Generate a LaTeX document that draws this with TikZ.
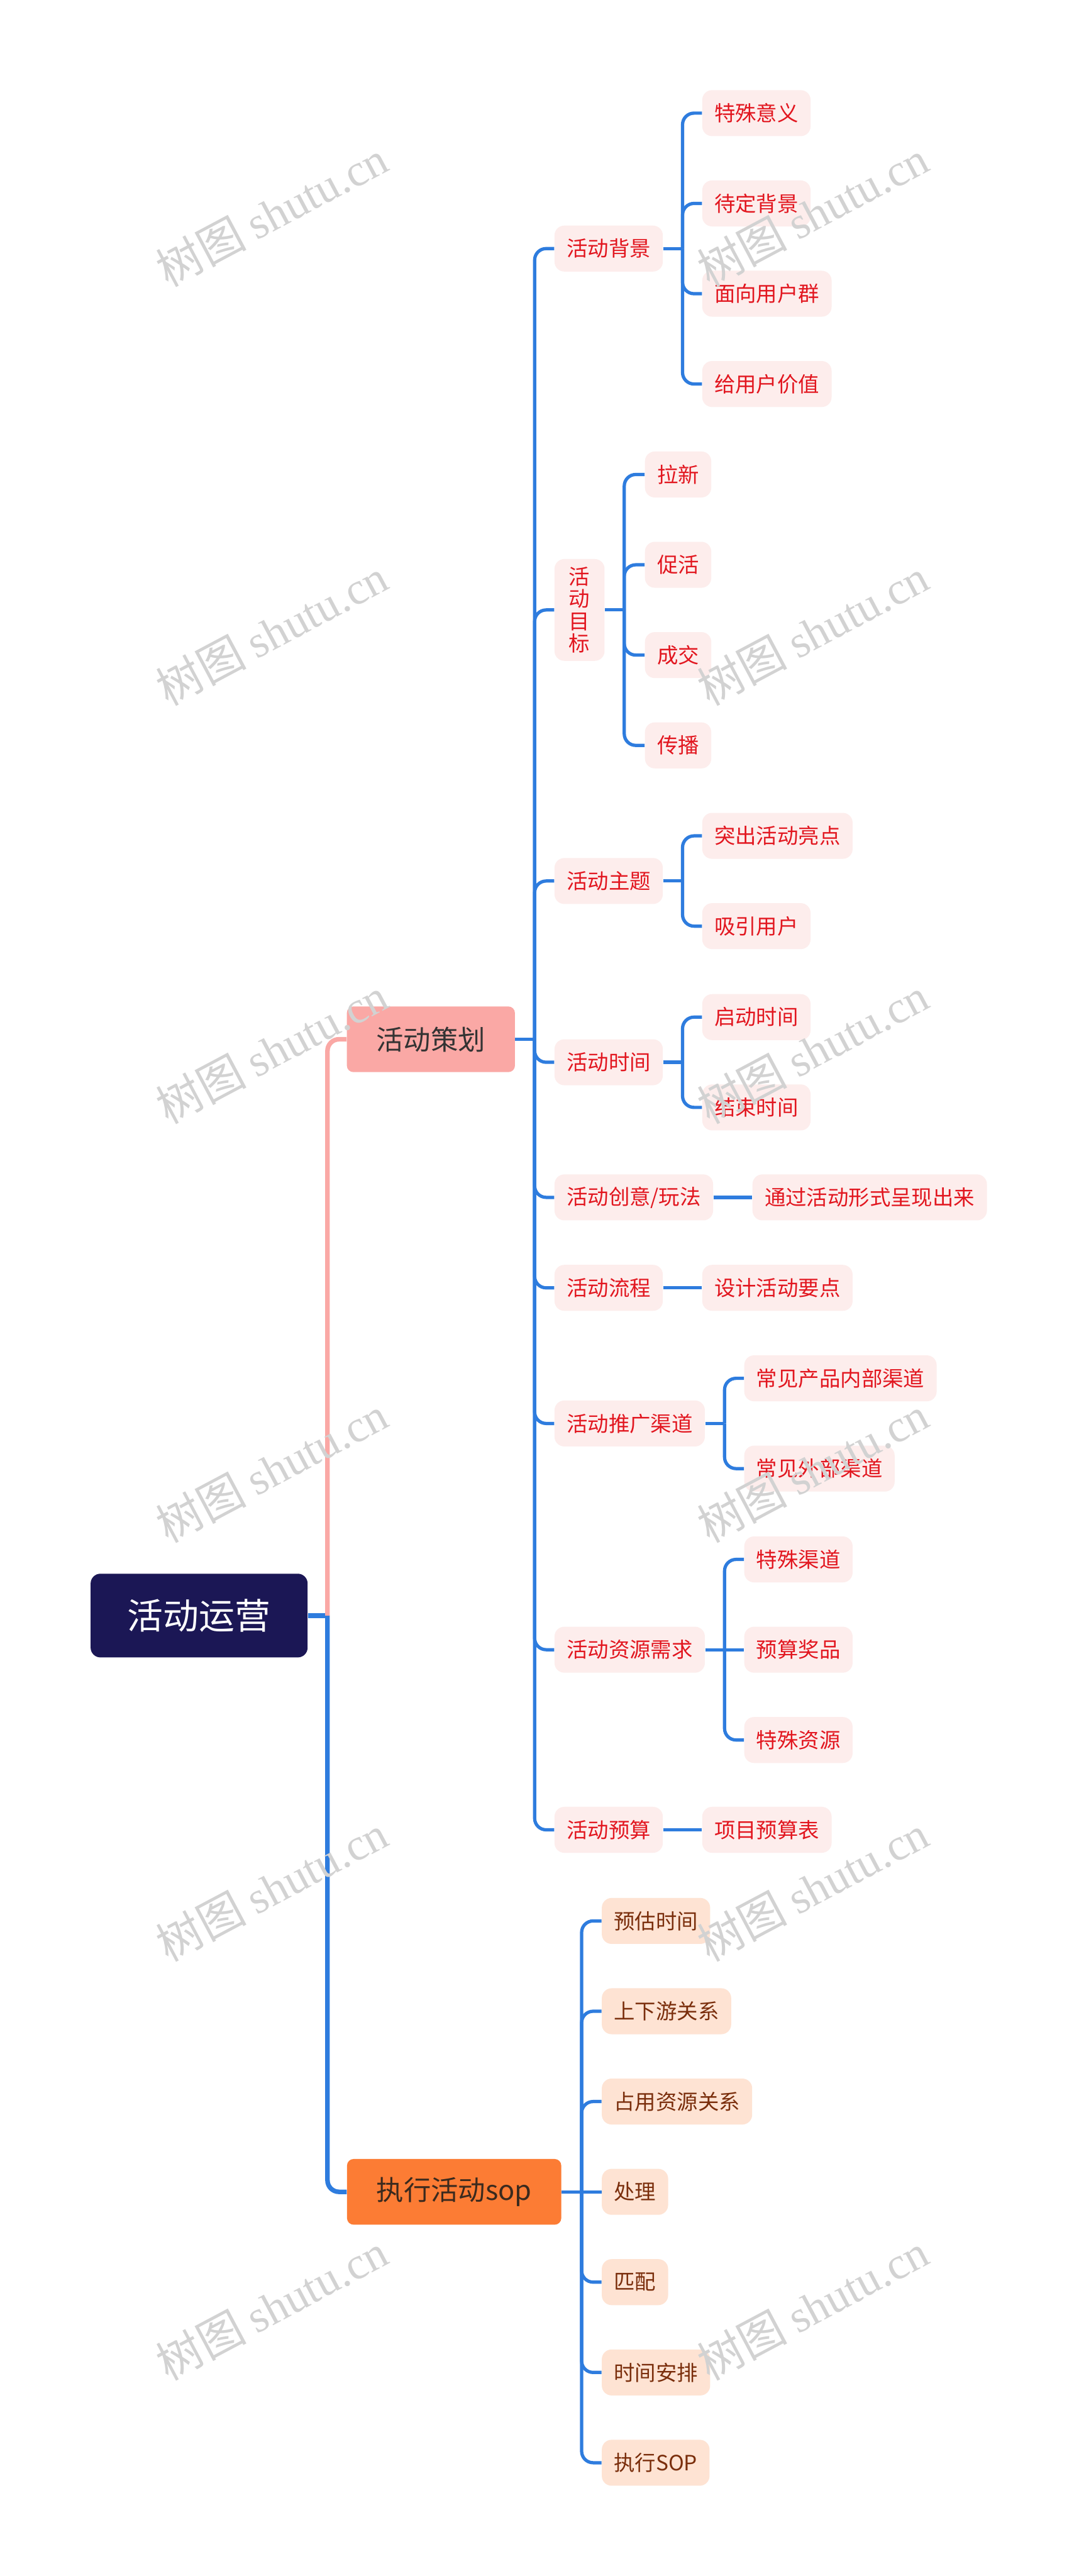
\documentclass[tikz,border=0pt]{standalone}
\usepackage{fontspec}
\setmainfont{Noto Sans CJK SC}
\newfontfamily\wmserif{Liberation Serif}
\usetikzlibrary{calc}
\definecolor{rootc}{HTML}{1B1755}
\definecolor{pinkc}{HTML}{FAA8A5}
\definecolor{orangec}{HTML}{FC7C34}
\definecolor{plantext}{HTML}{333333}
\definecolor{exetext}{HTML}{3B2A1E}
\definecolor{subfill}{HTML}{FDEDEC}
\definecolor{subtext}{HTML}{E2161F}
\definecolor{exfill}{HTML}{FEE3D3}
\definecolor{extext}{HTML}{7A2E0C}
\definecolor{bluec}{HTML}{2E7CDE}
\definecolor{wmc}{HTML}{D2D2D2}
\tikzset{
  base/.style={inner ysep=0pt, anchor=west},
  rootbox/.style={base, fill=rootc, text=white, rounded corners=6pt, inner xsep=22.5pt, minimum height=51pt, font=\fontsize{21.8}{21.8}\selectfont},
  planbox/.style={base, fill=pinkc, text=plantext, rounded corners=4pt, inner xsep=18pt, minimum height=40pt, font=\fontsize{16.6}{16.6}\selectfont},
  exebox/.style={planbox, fill=orangec, text=exetext},
  subbox/.style={base, fill=subfill, text=subtext, rounded corners=6pt, inner xsep=7.4pt, minimum height=28pt, font=\fontsize{12.8}{12.8}\selectfont},
  vertbox/.style={subbox, inner xsep=0pt, minimum width=30.5pt, minimum height=62pt, align=center, font=\fontsize{12.8}{13.6}\selectfont},
  exsub/.style={subbox, fill=exfill, text=extext},
  bl/.style={draw=bluec, line width=2pt, rounded corners=7pt},
  blthick/.style={draw=bluec, line width=2.8pt, rounded corners=7pt},
  pk/.style={draw=pinkc, line width=2.8pt, rounded corners=7pt},
  wm/.style={text=wmc, rotate=28, inner sep=0pt, font=\fontsize{27.5}{27.5}\selectfont}
}
\begin{document}
\begin{tikzpicture}[x=1pt,y=-1pt]
\fill[white] (0,0) rectangle (657,1569);
\useasboundingbox (0,0) rectangle (657,1569);

% level 0 and 1
\node[rootbox] (root) at (55,984) {活动运营};
\node[planbox] (plan) at (211.1,633) {活动策划};
\node[exebox] (exe) at (211.2,1335) {执行活动sop};

% level 2 under plan
\node[subbox] (bg) at (337.6,151.4) {活动背景};
\node[vertbox] (mb) at (337.6,371.5) {活\\动\\目\\标};
\node[subbox] (zt) at (337.6,536.6) {活动主题};
\node[subbox] (sj) at (337.6,647) {活动时间};
\node[subbox] (cy) at (337.6,729.3) {活动创意/玩法};
\node[subbox] (lc) at (337.6,784.4) {活动流程};
\node[subbox] (tg) at (337.6,867) {活动推广渠道};
\node[subbox] (zy) at (337.6,1004.8) {活动资源需求};
\node[subbox] (ysn) at (337.6,1114.5) {活动预算};

% level 3
\node[subbox] (bg1) at ($(bg.east)+(23.6,-82.5)$) {特殊意义};
\node[subbox] (bg2) at ($(bg.east)+(23.6,-27.5)$) {待定背景};
\node[subbox] (bg3) at ($(bg.east)+(23.6,27.5)$) {面向用户群};
\node[subbox] (bg4) at ($(bg.east)+(23.6,82.5)$) {给用户价值};

\node[subbox] (mb1) at ($(mb.east)+(24.2,-82.5)$) {拉新};
\node[subbox] (mb2) at ($(mb.east)+(24.2,-27.5)$) {促活};
\node[subbox] (mb3) at ($(mb.east)+(24.2,27.5)$) {成交};
\node[subbox] (mb4) at ($(mb.east)+(24.2,82.5)$) {传播};

\node[subbox] (zt1) at ($(zt.east)+(23.6,-27.5)$) {突出活动亮点};
\node[subbox] (zt2) at ($(zt.east)+(23.6,27.5)$) {吸引用户};

\node[subbox] (sj1) at ($(sj.east)+(23.6,-27.5)$) {启动时间};
\node[subbox] (sj2) at ($(sj.east)+(23.6,27.5)$) {结束时间};

\node[subbox] (cy1) at ($(cy.east)+(23.6,0)$) {通过活动形式呈现出来};
\node[subbox] (lc1) at ($(lc.east)+(23.6,0)$) {设计活动要点};

\node[subbox] (tg1) at ($(tg.east)+(23.6,-27.5)$) {常见产品内部渠道};
\node[subbox] (tg2) at ($(tg.east)+(23.6,27.5)$) {常见外部渠道};

\node[subbox] (zy1) at ($(zy.east)+(23.6,-55)$) {特殊渠道};
\node[subbox] (zy2) at ($(zy.east)+(23.6,0)$) {预算奖品};
\node[subbox] (zy3) at ($(zy.east)+(23.6,55)$) {特殊资源};

\node[subbox] (ysn1) at ($(ysn.east)+(23.6,0)$) {项目预算表};

% execution children
\node[exsub] (ex1) at ($(exe.east)+(24.3,-165)$) {预估时间};
\node[exsub] (ex2) at ($(exe.east)+(24.3,-110)$) {上下游关系};
\node[exsub] (ex3) at ($(exe.east)+(24.3,-55)$) {占用资源关系};
\node[exsub] (ex4) at ($(exe.east)+(24.3,0)$) {处理};
\node[exsub] (ex5) at ($(exe.east)+(24.3,55)$) {匹配};
\node[exsub] (ex6) at ($(exe.east)+(24.3,110)$) {时间安排};
\node[exsub] (ex7) at ($(exe.east)+(24.3,165)$) {执行SOP};

% connectors level 1
\coordinate (j0) at ($(root.east)+(11.9,0)$);
\draw[blthick] (root.east) -- (j0);
\draw[blthick] (j0) |- (exe.west);
\draw[pk] (j0) |- (plan.west);

% connectors level 2
\coordinate (j1) at ($(plan.east)+(11.8,0)$);
\draw[bl] (plan.east) -- (j1);
\foreach \c in {bg,mb,zt,sj,cy,lc,tg,zy,ysn} { \draw[bl] (j1) |- (\c.west); }

% connectors level 3 (forks)
\foreach \p/\kids in {bg/{bg1,bg2,bg3,bg4}, mb/{mb1,mb2,mb3,mb4}, zt/{zt1,zt2}, sj/{sj1,sj2}, tg/{tg1,tg2}, zy/{zy1,zy3}} {
  \coordinate (jp) at ($(\p.east)+(11.8,0)$);
  \draw[bl] (\p.east) -- (jp);
  \foreach \k in \kids { \draw[bl] (jp) |- (\k.west); }
}
% straight connectors
\draw[bl] (cy.east) -- (cy1.west);
\draw[bl] (lc.east) -- (lc1.west);
\draw[bl] (zy.east) -- (zy2.west);
\draw[bl] (ysn.east) -- (ysn1.west);

\coordinate (j2) at ($(exe.east)+(12.2,0)$);
\draw[bl] (exe.east) -- (ex4.west);
\foreach \k in {ex1,ex2,ex3,ex5,ex6,ex7} { \draw[bl] (j2) |- (\k.west); }

% watermarks
\foreach \yy [count=\i] in {130,385,640,895,1150,1405} {
  \node[wm] (wl\i) at (165.5,\yy) {树图 {\wmserif shutu.cn}};
  \node[wm] (wr\i) at (495,\yy) {树图 {\wmserif shutu.cn}};
}
\end{tikzpicture}
\end{document}
